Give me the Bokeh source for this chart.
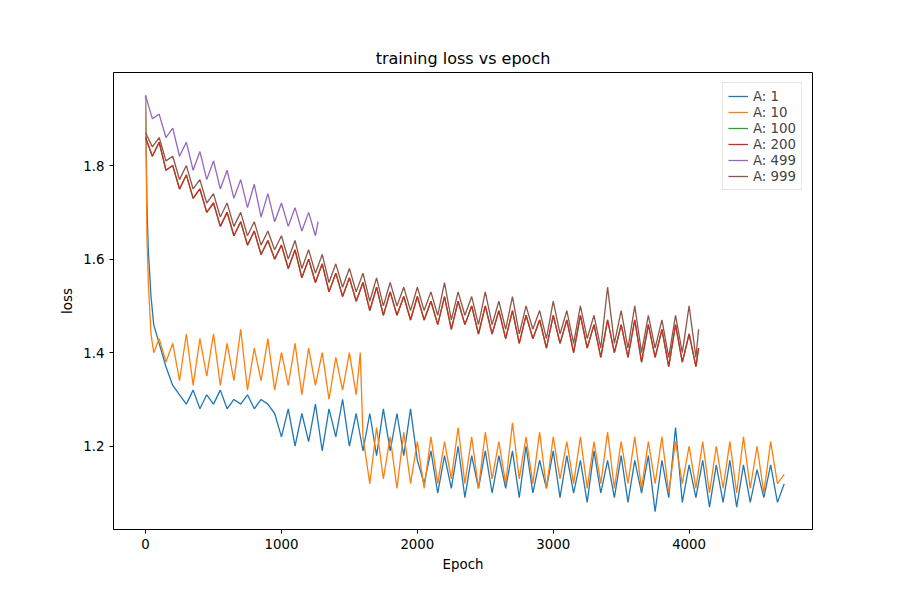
from bokeh.plotting import figure
from bokeh.models import Range1d, FixedTicker
from bokeh.embed import file_html
from bokeh.resources import INLINE

start_x = [0, 10, 20, 40, 60, 100, 150, 200]

# A: 1
x_1 = start_x + list(range(250, 4701, 50))
loss_1 = [1.95, 1.72, 1.62, 1.52, 1.46, 1.42, 1.37, 1.33,
          1.31, 1.29, 1.32, 1.28, 1.31, 1.29, 1.32, 1.28, 1.30, 1.29, 1.31, 1.28, 1.30, 1.29, 1.27,
          1.22, 1.28, 1.20, 1.27, 1.21, 1.29, 1.19, 1.28, 1.22, 1.30, 1.20, 1.27,
          1.19, 1.27, 1.18, 1.28, 1.19, 1.27, 1.18, 1.28, 1.17,
          1.12, 1.19, 1.10, 1.18, 1.11, 1.20, 1.09, 1.18, 1.11, 1.19,
          1.10, 1.18, 1.11, 1.19, 1.09, 1.20, 1.10, 1.17, 1.11, 1.19,
          1.09, 1.18, 1.10, 1.17, 1.08, 1.19, 1.10, 1.17, 1.09, 1.18,
          1.08, 1.17, 1.10, 1.18, 1.06, 1.17, 1.09, 1.24, 1.08, 1.16,
          1.09, 1.17, 1.07, 1.16, 1.08, 1.17, 1.07, 1.16, 1.08, 1.15,
          1.09, 1.16, 1.08, 1.12]

# A: 10
x_10 = start_x + list(range(250, 1551, 50)) + [1580, 1600] + list(range(1650, 4701, 50))
loss_10 = [1.95, 1.65, 1.55, 1.44, 1.40, 1.43, 1.38, 1.42,
           1.34, 1.44, 1.33, 1.43, 1.35, 1.44, 1.33, 1.42, 1.34, 1.45, 1.32, 1.41, 1.34, 1.43,
           1.32, 1.40, 1.33, 1.42, 1.31, 1.41, 1.33, 1.40, 1.30, 1.39, 1.32, 1.40, 1.31,
           1.40, 1.22,
           1.12, 1.24, 1.13, 1.22, 1.11, 1.23, 1.12, 1.21, 1.11, 1.22,
           1.12, 1.21, 1.13, 1.24, 1.12, 1.22, 1.11, 1.23, 1.13, 1.21,
           1.12, 1.25, 1.13, 1.22, 1.12, 1.23, 1.11, 1.22, 1.13, 1.21,
           1.12, 1.22, 1.11, 1.21, 1.12, 1.23, 1.11, 1.21, 1.12, 1.22,
           1.11, 1.21, 1.12, 1.22, 1.10, 1.21, 1.12, 1.20, 1.11, 1.21,
           1.10, 1.20, 1.11, 1.21, 1.10, 1.22, 1.11, 1.20, 1.10, 1.21,
           1.12, 1.14]

# A: 200 (A: 100 lies underneath it)
x_200 = list(range(0, 4051, 50)) + [4070]
loss_200 = [1.86, 1.82, 1.85, 1.79, 1.80, 1.75, 1.78, 1.73, 1.75, 1.70,
            1.72, 1.67, 1.70, 1.65, 1.68, 1.63, 1.66, 1.61, 1.64, 1.60,
            1.63, 1.58, 1.62, 1.56, 1.60, 1.55, 1.59, 1.53, 1.57, 1.52,
            1.56, 1.51, 1.55, 1.49, 1.54, 1.48, 1.53, 1.48, 1.52, 1.47,
            1.52, 1.47, 1.51, 1.46, 1.52, 1.45, 1.51, 1.46, 1.50, 1.44,
            1.50, 1.44, 1.49, 1.43, 1.49, 1.42, 1.48, 1.43, 1.47, 1.41,
            1.48, 1.42, 1.47, 1.40, 1.48, 1.41, 1.46, 1.39, 1.47, 1.40,
            1.46, 1.39, 1.47, 1.38, 1.46, 1.39, 1.45, 1.37, 1.46, 1.38,
            1.44, 1.37, 1.41]
x_100 = x_200
loss_100 = loss_200

# A: 499
x_499 = list(range(0, 1251, 50)) + [1270]
loss_499 = [1.95, 1.90, 1.91, 1.86, 1.88, 1.82, 1.85, 1.79, 1.83, 1.77, 1.81, 1.75, 1.79,
            1.73, 1.77, 1.71, 1.76, 1.69, 1.74, 1.68, 1.72, 1.67, 1.71, 1.66, 1.70, 1.65, 1.68]

# A: 999
x_999 = x_200
loss_999 = [1.87, 1.84, 1.86, 1.81, 1.82, 1.77, 1.80, 1.75, 1.77, 1.72,
            1.74, 1.69, 1.72, 1.67, 1.70, 1.65, 1.68, 1.63, 1.66, 1.62,
            1.65, 1.60, 1.64, 1.58, 1.62, 1.57, 1.61, 1.55, 1.59, 1.54,
            1.58, 1.53, 1.57, 1.51, 1.56, 1.50, 1.55, 1.50, 1.54, 1.49,
            1.54, 1.49, 1.53, 1.48, 1.55, 1.47, 1.53, 1.48, 1.52, 1.46,
            1.53, 1.46, 1.51, 1.45, 1.52, 1.44, 1.50, 1.45, 1.49, 1.43,
            1.51, 1.44, 1.49, 1.42, 1.50, 1.43, 1.48, 1.41, 1.54, 1.42,
            1.49, 1.41, 1.50, 1.40, 1.48, 1.41, 1.47, 1.39, 1.48, 1.40,
            1.50, 1.39, 1.45]

series = [("A: 1", x_1, loss_1, "#1f77b4"),
          ("A: 10", x_10, loss_10, "#ff7f0e"),
          ("A: 100", x_100, loss_100, "#2ca02c"),
          ("A: 200", x_200, loss_200, "#d62728"),
          ("A: 499", x_499, loss_499, "#9467bd"),
          ("A: 999", x_999, loss_999, "#8c564b")]

font = "DejaVu Sans"
p = figure(width=884, height=584, output_backend="svg", toolbar_location=None,
           title="training loss vs epoch",
           x_range=Range1d(-236, 4908), y_range=Range1d(1.022, 1.999),
           min_border_left=113, min_border_right=72, min_border_top=72, min_border_bottom=55)
p.title.align = "center"
p.title.text_font = font
p.title.text_font_size = "12pt"
p.title.text_font_style = "normal"
p.title.text_color = "black"

for label, xs, ys, color in series:
    p.line(xs, ys, color=color, line_width=1.3, legend_label=label)

p.xgrid.visible = False
p.ygrid.visible = False
p.xaxis.ticker = FixedTicker(ticks=[0, 1000, 2000, 3000, 4000])
p.yaxis.ticker = FixedTicker(ticks=[1.2, 1.4, 1.6, 1.8])
p.xaxis.axis_label = "Epoch"
p.yaxis.axis_label = "loss"
for ax in (p.xaxis, p.yaxis):
    ax.axis_label_text_font = font
    ax.axis_label_text_font_style = "normal"
    ax.axis_label_text_font_size = "10pt"
    ax.axis_label_text_color = "black"
    ax.major_label_text_font = font
    ax.major_label_text_font_size = "10pt"
    ax.major_label_text_color = "black"
    ax.minor_tick_line_color = None
    ax.major_tick_in = 0
    ax.major_tick_out = 4
    ax.axis_line_color = "black"
p.outline_line_color = "black"

p.legend.location = "top_right"
p.legend.label_text_font = font
p.legend.label_text_font_size = "10pt"
p.legend.border_line_color = "#cccccc"
p.legend.spacing = 0
p.legend.padding = 5
p.legend.label_height = 16
p.legend.glyph_height = 16

open("out.html", "w").write(file_html(p, INLINE))
